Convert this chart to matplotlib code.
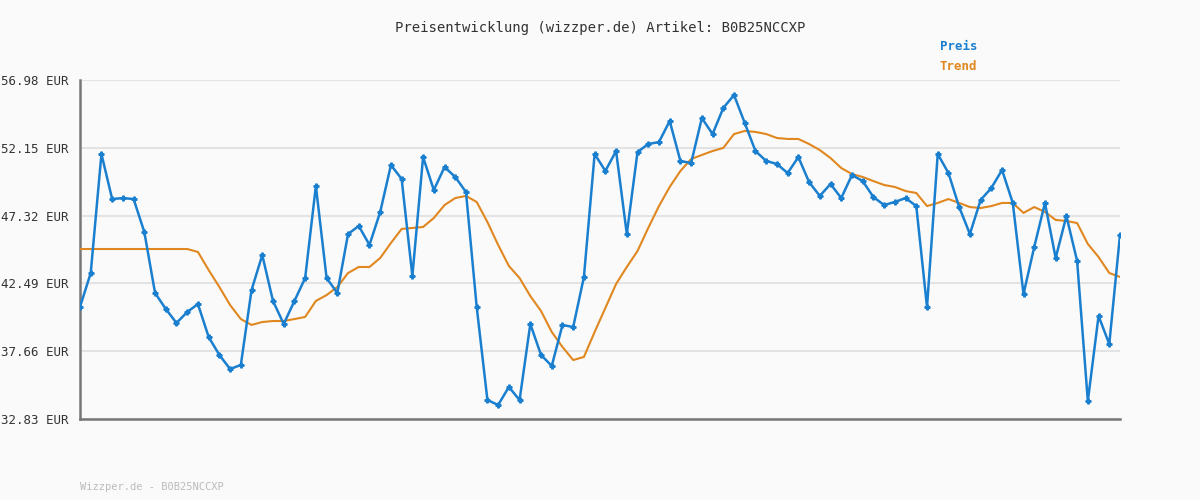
import numpy as np
import matplotlib.pyplot as plt

price = [40.81, 43.23, 51.71, 48.50, 48.57, 48.50, 46.15, 41.81, 40.67, 39.67,
         40.45, 41.02, 38.67, 37.39, 36.39, 36.68, 42.02, 44.51, 41.24, 39.60,
         41.24, 42.87, 49.43, 42.87, 41.81, 46.01, 46.58, 45.23, 47.58, 50.92,
         49.93, 43.02, 51.49, 49.14, 50.78, 50.07, 49.00, 40.81, 34.18, 33.83,
         35.11, 34.18, 39.60, 37.39, 36.61, 39.53, 39.38, 42.95, 51.71, 50.50,
         51.92, 46.01, 51.85, 52.42, 52.56, 54.06, 51.21, 51.07, 54.27, 53.13,
         54.99, 55.91, 53.92, 51.92, 51.21, 51.00, 50.35, 51.49, 49.71, 48.72,
         49.57, 48.57, 50.21, 49.78, 48.64, 48.07, 48.29, 48.57, 48.00, 40.81,
         51.71, 50.35, 47.93, 46.01, 48.43, 49.29, 50.57, 48.22, 41.73, 45.08,
         48.22, 44.30, 47.29, 44.09, 34.11, 40.17, 38.17, 45.94]

trend = [44.94] * 11 + [
         44.73, 43.44, 42.23, 40.95, 39.95, 39.53, 39.74, 39.81, 39.81, 39.95,
         40.10, 41.24, 41.66, 42.23, 43.23, 43.66, 43.66, 44.30, 45.37, 46.37,
         46.44, 46.51, 47.15, 48.07, 48.57, 48.72, 48.29, 46.86, 45.23, 43.73,
         42.87, 41.59, 40.52, 39.03, 37.96, 37.03, 37.25, 39.03, 40.74, 42.45,
         43.66, 44.80, 46.44, 48.00, 49.36, 50.50, 51.35, 51.64, 51.92, 52.14,
         53.13, 53.35, 53.28, 53.13, 52.85, 52.78, 52.78, 52.42, 51.99, 51.42,
         50.71, 50.28, 50.07, 49.78, 49.50, 49.36, 49.07, 48.93, 48.00, 48.22,
         48.50, 48.22, 47.93, 47.86, 48.00, 48.22, 48.22, 47.51, 47.93, 47.58,
         47.01, 46.94, 46.79, 45.30, 44.37, 43.23, 42.95]

y_ticks = [32.83, 37.66, 42.49, 47.32, 52.15, 56.98]
title = "Preisentwicklung (wizzper.de) Artikel: B0B25NCCXP"

blue = "#1a7fcf"
orange = "#e0871f"
mono = "DejaVu Sans Mono"

fig = plt.figure(figsize=(12, 5), dpi=100, facecolor="#fafafa")
ax = fig.add_axes([80 / 1200, 1 - 419 / 500, 1040 / 1200, 339 / 500])
ax.set_facecolor("#fafafa")

x = np.arange(len(price))
ax.plot(x, trend, color=orange, lw=1.5, zorder=3)
ax.plot(x, price, color=blue, lw=1.8, marker="P", markersize=3.5, zorder=4)

ax.set_xlim(0, len(price) - 1)
ax.set_ylim(y_ticks[0], y_ticks[-1])
ax.set_yticks(y_ticks)
ax.set_yticklabels([f"{v:.2f} EUR" for v in y_ticks], family=mono, fontsize=9, color="#333333")
ax.set_xticks([])
ax.tick_params(axis="y", length=0, pad=8)
ax.grid(axis="y", color="#e3e3e3", lw=1.5)
ax.set_axisbelow(True)
for s in ["top", "right"]:
    ax.spines[s].set_visible(False)
for s in ["left", "bottom"]:
    ax.spines[s].set_color("#777777")
    ax.spines[s].set_linewidth(1.8)

fig.text(0.5, 1 - 28 / 500, title, ha="center", va="center", family=mono, fontsize=10, color="#333333")
fig.text(940 / 1200, 1 - 47 / 500, "Preis", family=mono, fontsize=9, color=blue, weight="bold", va="center")
fig.text(940 / 1200, 1 - 67 / 500, "Trend", family=mono, fontsize=9, color=orange, weight="bold", va="center")
fig.text(80 / 1200, 1 - 487 / 500, "Wizzper.de - B0B25NCCXP", family=mono, fontsize=7.5, color="#bbbbbb", va="center")

fig.savefig("out.png", dpi=100, facecolor=fig.get_facecolor())
